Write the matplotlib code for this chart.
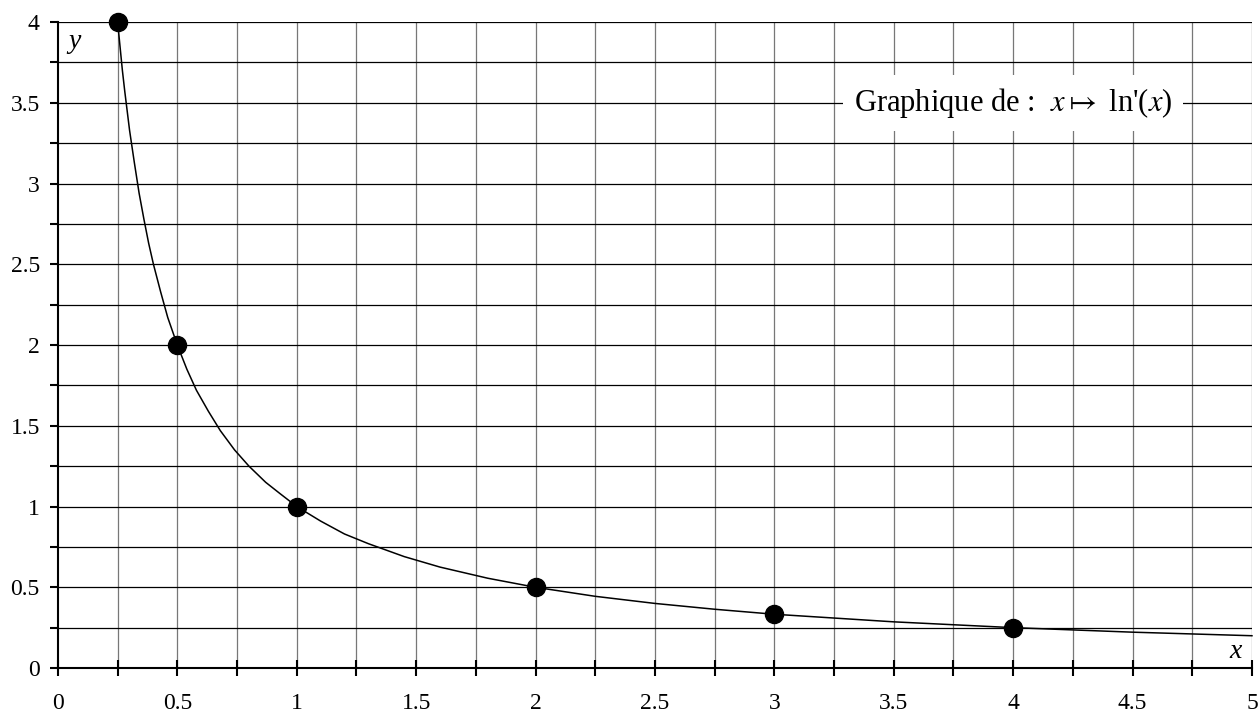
import numpy as np
import matplotlib.pyplot as plt
from matplotlib.ticker import MultipleLocator

plt.rcParams['font.family'] = ['Liberation Serif', 'DejaVu Serif']
plt.rcParams['mathtext.fontset'] = 'stix'

# points marked on the curve
pts_x = [0.25, 0.5, 1, 2, 3, 4]
pts_y = [4, 2, 1, 0.5, 0.333, 0.25]

# curve samples
curve_x = [0.25, 0.26, 0.27, 0.28, 0.29, 0.3, 0.31, 0.32, 0.34, 0.36, 0.38, 0.4,
           0.43, 0.46, 0.5, 0.54, 0.58, 0.63, 0.68, 0.74, 0.8, 0.87, 0.93, 1,
           1.1, 1.2, 1.3, 1.45, 1.6, 1.8, 2, 2.25, 2.5, 2.75, 3, 3.5, 4, 4.5, 5]
curve_y = [4, 3.85, 3.7, 3.57, 3.45, 3.33, 3.23, 3.13, 2.94, 2.78, 2.63, 2.5,
           2.33, 2.17, 2, 1.85, 1.72, 1.59, 1.47, 1.35, 1.25, 1.15, 1.08, 1,
           0.91, 0.83, 0.77, 0.69, 0.625, 0.556, 0.5, 0.444, 0.4, 0.364, 0.333,
           0.286, 0.25, 0.222, 0.2]

xticks = [0, 0.5, 1, 1.5, 2, 2.5, 3, 3.5, 4, 4.5, 5]
yticks = [0, 0.5, 1, 1.5, 2, 2.5, 3, 3.5, 4]

fig = plt.figure(figsize=(12.59, 7.17), dpi=100)
ax = fig.add_axes([0.046, 0.0683, 0.9484, 0.901])

ax.set_xlim(0, 5)
ax.set_ylim(0, 4)

# grid every 0.25
for gx in np.arange(0.25, 5.01, 0.25):
    ax.axvline(gx, color='#777777', lw=0.9, zorder=1)
for gy in np.arange(0.25, 4.01, 0.25):
    ax.axhline(gy, color='black', lw=0.9, zorder=1)

ax.plot(curve_x, curve_y, color='black', lw=1.1, zorder=3, clip_on=False)
ax.plot(pts_x, pts_y, 'o', color='black', ms=13, zorder=4, clip_on=False)

for s in ['top', 'right']:
    ax.spines[s].set_visible(False)
ax.spines['left'].set_linewidth(1.5)
ax.spines['bottom'].set_linewidth(1.5)
ax.spines['left'].set_zorder(2)
ax.spines['bottom'].set_zorder(2)

ax.set_xticks(xticks)
ax.set_yticks(yticks)
ax.set_xticklabels([f'{v:g}' for v in xticks])
ax.set_yticklabels([f'{v:g}' for v in yticks])
ax.xaxis.set_minor_locator(MultipleLocator(0.25))
ax.yaxis.set_minor_locator(MultipleLocator(0.25))
ax.tick_params(axis='x', which='both', direction='inout', length=12, width=1.5, labelsize=17, pad=12)
ax.tick_params(axis='y', which='both', direction='out', length=6, width=1.5, labelsize=17, pad=7)

ax.text(0.07, 3.88, 'y', fontsize=20, style='italic', ha='center', va='center')
ax.text(4.93, 0.1, 'x', fontsize=20, style='italic', ha='center', va='center')

ax.text(4.0, 3.5, "Graphique de :  $x \\mapsto$ ln'($x$)", fontsize=22,
        ha='center', va='center', zorder=5,
        bbox=dict(facecolor='white', edgecolor='none', pad=8))

fig.savefig('out.png', dpi=100)
